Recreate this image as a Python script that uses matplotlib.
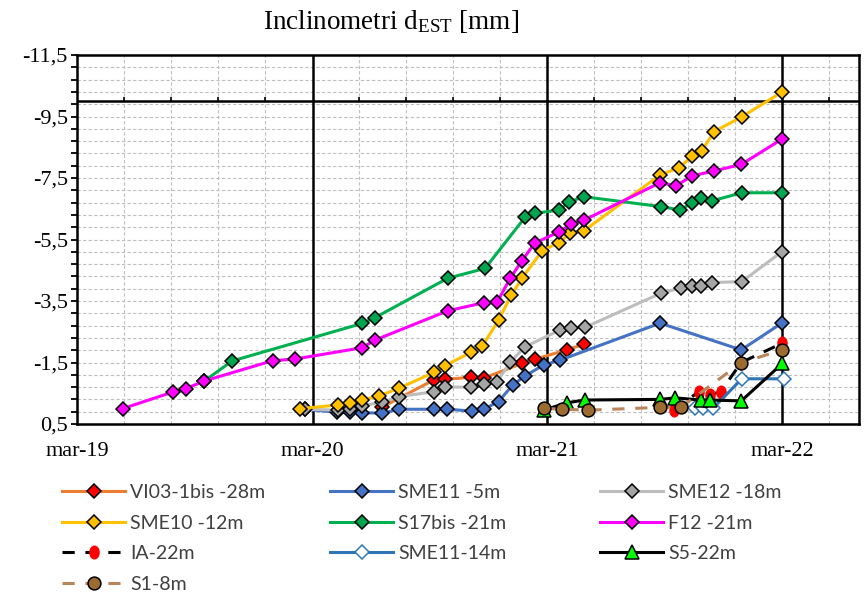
import numpy as np
import pandas as pd
import matplotlib
matplotlib.use('Agg')
import matplotlib.pyplot as plt
from matplotlib.markers import MarkerStyle
from matplotlib.transforms import Affine2D
from matplotlib.lines import Line2D

plt.rcParams['mathtext.fontset'] = 'custom'
plt.rcParams['mathtext.rm'] = 'Liberation Serif'
plt.rcParams['mathtext.it'] = 'Liberation Serif:italic'

# ---------------- data (x = days since 2019-03-01, y = displacement mm) ----------------
origin = '2019-03-01'
x_tick_dates = ['2019-03-01', '2020-03-01', '2021-03-01', '2022-03-01']
x_tick_labels = ['mar-19', 'mar-20', 'mar-21', 'mar-22']
y_tick_values = [-11.5, -9.5, -7.5, -5.5, -3.5, -1.5, 0.5]
y_tick_labels = ['-11,5', '-9,5', '-7,5', '-5,5', '-3,5', '-1,5', '0,5']

vi03_days = [474, 554, 571, 612, 632, 691, 712, 761, 787]
vi03_vals = [-0.05, -0.93, -0.95, -1.02, -0.99, -1.47, -1.61, -1.91, -2.09]

sme11_days = [355, 404, 424, 443, 474, 501, 555, 575, 614, 632, 655, 677, 696, 725, 751, 906, 1032, 1095]
sme11_vals = [0.02, 0.12, 0.12, 0.13, 0.15, 0.02, 0.02, 0.02, 0.08, 0.02, -0.23, -0.77, -1.06, -1.42, -1.58, -2.78, -1.91, -2.78]

sme12_days = [355, 406, 424, 443, 474, 500, 555, 571, 612, 632, 653, 673, 696, 751, 767, 789, 907, 939, 956, 970, 987, 1033, 1095]
sme12_vals = [0.02, 0.05, 0.0, -0.1, -0.2, -0.39, -0.55, -0.70, -0.70, -0.80, -0.88, -1.51, -2.01, -2.56, -2.63, -2.64, -3.75, -3.93, -3.99, -3.99, -4.10, -4.13, -5.10]

sme10_days = [347, 406, 424, 443, 469, 500, 555, 571, 612, 630, 655, 675, 692, 723, 749, 766, 788, 906, 936, 956, 971, 990, 1033, 1095]
sme10_vals = [0.0, -0.12, -0.19, -0.28, -0.41, -0.66, -1.18, -1.39, -1.83, -2.04, -2.88, -3.70, -4.26, -5.14, -5.40, -5.70, -5.79, -7.60, -7.84, -8.22, -8.39, -9.01, -9.49, -10.29]

s17_days = [198, 241, 443, 463, 576, 634, 696, 711, 749, 765, 788, 907, 937, 956, 969, 987, 1033, 1096]
s17_vals = [-0.90, -1.55, -2.77, -2.96, -4.24, -4.56, -6.22, -6.35, -6.46, -6.73, -6.89, -6.57, -6.46, -6.70, -6.86, -6.76, -7.02, -7.02]

f12_days = [71, 149, 169, 198, 304, 338, 443, 463, 576, 633, 653, 673, 691, 711, 749, 767, 788, 906, 930, 956, 990, 1032, 1095]
f12_vals = [0.0, -0.54, -0.65, -0.90, -1.56, -1.61, -1.98, -2.23, -3.18, -3.45, -3.47, -4.24, -4.80, -5.38, -5.75, -5.99, -6.13, -7.35, -7.24, -7.57, -7.73, -7.94, -8.76]

ia_days = [927, 966, 984, 1000, 1032, 1095]
ia_vals = [0.05, -0.55, -0.45, -0.55, -1.50, -2.12]

sme1114_days = [960, 973, 988, 1033, 1098]
sme1114_vals = [-0.01, -0.01, -0.01, -0.97, -0.97]

s5_days = [725, 761, 789, 906, 929, 969, 984, 1032, 1096]
s5_vals = [0.05, -0.19, -0.28, -0.30, -0.35, -0.28, -0.28, -0.25, -1.47]

s1_days = [725, 753, 794, 906, 938, 1032, 1096]
s1_vals = [-0.01, 0.02, 0.05, -0.04, -0.04, -1.49, -1.91]

# ---------------- figure ----------------
fig = plt.figure(figsize=(8.64, 5.92), dpi=100)
ax = fig.add_axes([77 / 864, 1 - 424 / 592, (859 - 77) / 864, (424 - 55) / 592])

x_ticks = [(pd.Timestamp(d) - pd.Timestamp(origin)).days for d in x_tick_dates]
x_max = 1215
ax.set_xlim(0, x_max)
ax.set_ylim(0.5, -11.5)

# grids
minor_x = [k * 365.25 / 5 for k in range(1, 17) if k % 5 != 0]
minor_y = [0.5 - 0.4 * k for k in range(1, 30)]
for xv in minor_x:
    ax.axvline(xv, color='#BFBFBF', lw=0.8, ls=(0, (3, 2)), zorder=0)
for yv in minor_y:
    ax.axhline(yv, color='#BFBFBF', lw=0.8, ls=(0, (3, 2)), zorder=0)
for xv in x_ticks[1:]:
    ax.axvline(xv, color='black', lw=1.8, zorder=1)
ax.axhline(-10, color='black', lw=1.8, zorder=1)
ax.vlines(minor_x, -10, -10.15, color='black', lw=1.2, zorder=1)

ax.set_xticks(x_ticks)
ax.set_xticklabels(x_tick_labels)
ax.set_yticks(y_tick_values)
ax.set_yticklabels(y_tick_labels)
ax.set_yticks(minor_y, minor=True)
ax.tick_params(axis='x', which='both', length=0, pad=13, labelsize=16)
ax.tick_params(axis='y', which='both', direction='out', length=4, width=1.3, pad=2.5, labelsize=16)
for lab in ax.get_xticklabels() + ax.get_yticklabels():
    lab.set_fontfamily('Liberation Serif')
for s in ax.spines.values():
    s.set_linewidth(1.8)
    s.set_color('black')

ell = MarkerStyle('o', transform=Affine2D().scale(0.72, 1.0))

series = [
    ('VI03-1bis -28m', vi03_days, vi03_vals, dict(color='#ED7D31', ls='-', marker='D', ms=6.8, mfc='#FF0000', mec='black')),
    ('SME11 -5m', sme11_days, sme11_vals, dict(color='#4472C4', ls='-', marker='D', ms=6.8, mfc='#4472C4', mec='black')),
    ('SME12 -18m', sme12_days, sme12_vals, dict(color='#BDBDBD', ls='-', marker='D', ms=6.8, mfc='#A5A5A5', mec='black')),
    ('SME10 -12m', sme10_days, sme10_vals, dict(color='#FFC000', ls='-', marker='D', ms=6.8, mfc='#FFC000', mec='black')),
    ('S17bis -21m', s17_days, s17_vals, dict(color='#00B050', ls='-', marker='D', ms=6.8, mfc='#00A550', mec='black')),
    ('F12 -21m', f12_days, f12_vals, dict(color='#FF00FF', ls='-', marker='D', ms=6.8, mfc='#FF00FF', mec='black')),
    ('IA-22m', ia_days, ia_vals, dict(color='black', ls=(0, (4, 3.5)), marker=ell, ms=9, mfc='#FF0000', mec='#FF0000')),
    ('SME11-14m', sme1114_days, sme1114_vals, dict(color='#2E75B6', ls='-', marker='D', ms=6.8, mfc='white', mec='#2E75B6')),
    ('S5-22m', s5_days, s5_vals, dict(color='black', ls='-', marker='^', ms=9.5, mfc='#00FF00', mec='black')),
    ('S1-8m', s1_days, s1_vals, dict(color='#B8865A', ls=(0, (4, 3.5)), marker='o', ms=9.2, mfc='#9C6B30', mec='black')),
]

handles = {}
for i, (name, xs, ys, st) in enumerate(series):
    h, = ax.plot(xs, ys, lw=2.2, mew=1.1, zorder=3 + i, clip_on=False, label=name, **st)
    handles[name] = h

# title
fig.text(391 / 864, 1 - 29 / 592, r'Inclinometri d$_{\mathrm{EST}}$ [mm]', ha='center', va='baseline',
         fontsize=19.5, family='Liberation Serif')

# legend in three columns
columns = [
    (62, ['VI03-1bis -28m', 'SME10 -12m', 'IA-22m', 'S1-8m']),
    (330, ['SME11 -5m', 'S17bis -21m', 'SME11-14m']),
    (600, ['SME12 -18m', 'F12 -21m', 'S5-22m']),
]
for xpx, names in columns:
    leg = fig.legend([handles[n] for n in names], names, loc='upper left',
                     bbox_to_anchor=(xpx / 864, 1 - 484 / 592), frameon=False,
                     borderpad=0, borderaxespad=0, handlelength=3.25, handletextpad=0.25,
                     labelspacing=0.7, prop=dict(family='Lato', size=14))
    for t in leg.get_texts():
        t.set_color('#404040')

fig.savefig('out.png', dpi=100)
